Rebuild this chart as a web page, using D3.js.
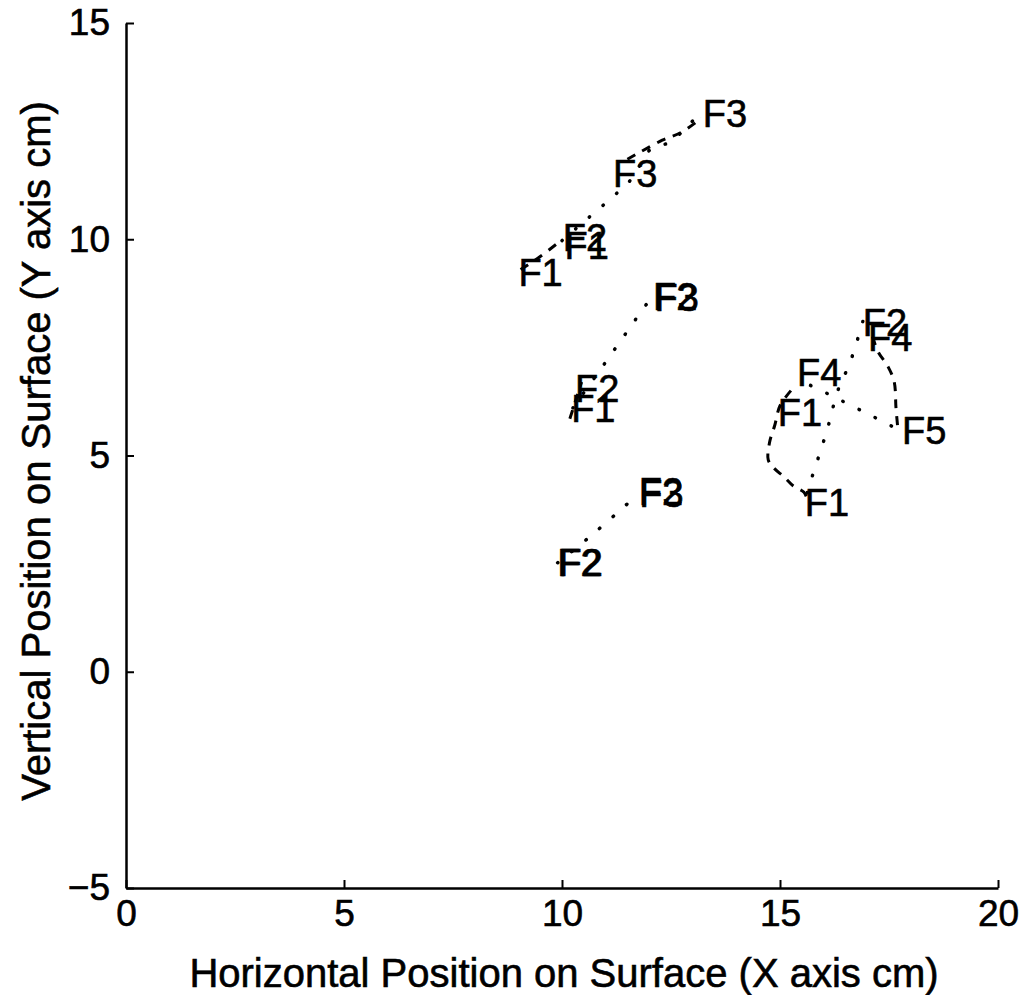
<!DOCTYPE html>
<html>
<head>
<meta charset="utf-8">
<script src="https://cdn.jsdelivr.net/npm/d3@7"></script>
<style>
  body { margin: 0; background: #fff; }
  svg { display: block; }
  .lbl { font-family: "Liberation Sans", Arial, Helvetica, sans-serif; font-size: 37px; fill: #000; stroke: #000; stroke-width: 0.6px; }
  .flab { font-size: 38px; }
  .title { font-size: 40px; }
</style>
</head>
<body>
<div id="chart"></div>
<script>
// axis ticks
var xTicks = [0, 5, 10, 15, 20];
var yTicks = [-5, 0, 5, 10, 15];

// dashed traces (x, y in cm)
var dashedUpperF1 = [[9.05, 9.3], [9.5, 9.6], [9.95, 9.95]];
var dashedUpperF3 = [[11.5, 11.85], [11.8, 12.02], [12.3, 12.29], [12.75, 12.48], [13.2, 12.8]];
var dashedMiddleF1 = [[10.18, 5.85], [10.45, 6.7]];
var dashedRightF1 = [[15.25, 6.5], [15.0, 6.15], [14.88, 5.7], [14.76, 5.3], [14.73, 4.9], [14.85, 4.72], [15.1, 4.5], [15.3, 4.3], [15.55, 4.15], [15.62, 4.0]];
var dashedRightF5 = [[17.12, 7.75], [17.25, 7.4], [17.48, 7.05], [17.62, 6.7], [17.66, 6.1], [17.7, 5.65]];

// dotted traces
var dottedUpper = [[10.0, 9.97], [10.6, 10.49], [11.24, 11.05], [11.6, 11.4], [12.05, 12.1], [12.5, 12.25], [12.9, 12.65], [13.2, 12.9]];
var dottedMiddle = [[10.25, 6.1], [10.89, 7.0], [11.86, 8.39], [12.1, 8.72]];
var dottedLower = [[9.9, 2.52], [10.6, 3.09], [11.54, 3.92], [11.75, 4.12]];
var dottedRightA = [[16.9, 8.1], [16.61, 7.16], [16.33, 6.51], [16.08, 5.59], [15.69, 4.36], [15.6, 4.05]];
var dottedRightB = [[15.7, 6.62], [16.15, 6.4], [17.29, 5.82], [17.75, 5.58]];

// finger labels
var labelText = ["F1", "F2", "F1", "F3", "F3", "F2", "F3", "F2", "F1", "F2", "F2", "F2", "F3", "F2", "F4", "F4", "F1", "F1", "F5"];
var labelX = [9.0, 10.02, 10.06, 11.17, 13.23, 12.09, 12.12, 10.3, 10.21, 9.89, 9.92, 11.76, 11.77, 16.9, 17.02, 15.39, 14.95, 15.57, 17.8];
var labelY = [9.24, 10.05, 9.87, 11.53, 12.92, 8.69, 8.66, 6.56, 6.1, 2.54, 2.52, 4.18, 4.12, 8.09, 7.74, 6.93, 6.0, 3.92, 5.59];

var dashed = [dashedUpperF1, dashedUpperF3, dashedMiddleF1, dashedRightF1, dashedRightF5];
var dotted = [dottedUpper, dottedMiddle, dottedLower, dottedRightA, dottedRightB];

var W = 1028, H = 995;
var svg = d3.select("#chart").append("svg")
    .attr("width", W)
    .attr("height", H);

var x = d3.scaleLinear().domain([0, 20]).range([126, 998]);
var y = d3.scaleLinear().domain([-5, 15]).range([888, 23]);

var line = d3.line()
    .x(function(d) { return x(d[0]); })
    .y(function(d) { return y(d[1]); })
    .curve(d3.curveCatmullRom);

svg.selectAll(".dashed")
    .data(dashed).enter().append("path")
    .attr("class", "dashed")
    .attr("d", line)
    .attr("fill", "none")
    .attr("stroke", "#000")
    .attr("stroke-width", 3)
    .attr("stroke-dasharray", "9,8");

svg.selectAll(".dotted")
    .data(dotted).enter().append("path")
    .attr("class", "dotted")
    .attr("d", line)
    .attr("fill", "none")
    .attr("stroke", "#000")
    .attr("stroke-width", 3.5)
    .attr("stroke-linecap", "round")
    .attr("stroke-dasharray", "0.5,17.5");

var labels = labelText.map(function(t, i) {
    return { t: t, x: labelX[i], y: labelY[i] };
});

svg.selectAll(".flab")
    .data(labels).enter().append("text")
    .attr("class", "lbl flab")
    .attr("x", function(d) { return x(d.x); })
    .attr("y", function(d) { return y(d.y); })
    .attr("dy", "0.36em")
    .text(function(d) { return d.t; });

// axes, ticks pointing inward
var xAxis = d3.axisBottom(x).tickValues(xTicks).tickSizeInner(-8).tickSizeOuter(0).tickPadding(12).tickFormat(d3.format("d"));
var yAxis = d3.axisLeft(y).tickValues(yTicks).tickSizeInner(-8).tickSizeOuter(0).tickPadding(16).tickFormat(d3.format("d"));

var gx = svg.append("g")
    .attr("transform", "translate(0," + y(-5) + ")")
    .call(xAxis);
var gy = svg.append("g")
    .attr("transform", "translate(" + x(0) + ",0)")
    .call(yAxis);

[gx, gy].forEach(function(g) {
    g.select(".domain").attr("stroke-width", 2.5);
    g.selectAll(".tick line").attr("stroke-width", 2);
    g.selectAll(".tick text")
        .attr("class", "lbl")
        .attr("font-size", null)
        .attr("font-family", null);
    g.attr("font-size", null).attr("font-family", null);
});

svg.append("text")
    .attr("class", "lbl title")
    .attr("x", 564)
    .attr("y", 987)
    .attr("text-anchor", "middle")
    .text("Horizontal Position on Surface (X axis cm)");

svg.append("text")
    .attr("class", "lbl title")
    .attr("transform", "translate(50,451) rotate(-90)")
    .attr("text-anchor", "middle")
    .text("Vertical Position on Surface (Y axis cm)");
</script>
</body>
</html>
